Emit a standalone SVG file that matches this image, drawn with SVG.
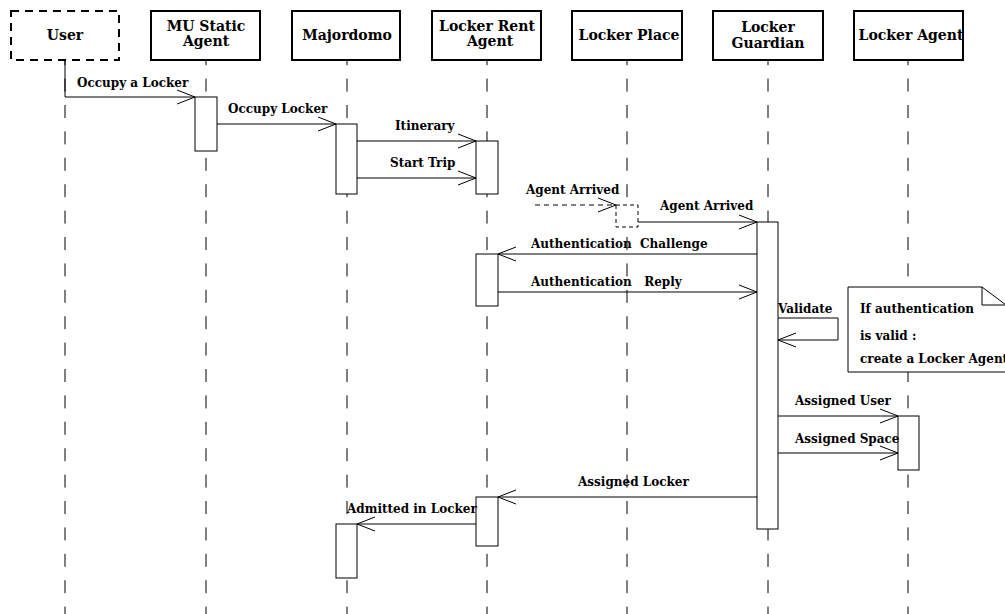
<svg xmlns="http://www.w3.org/2000/svg" width="1005" height="614" viewBox="0 0 1005 614">
<style>
.hdr{fill:#fff;stroke:#000;stroke-width:2}
.ht{font-family:"DejaVu Serif","Liberation Serif",serif;font-weight:bold;font-size:14px;text-anchor:middle;fill:#000}
.life{stroke:#000;stroke-width:1;stroke-dasharray:13 13.4;stroke-dashoffset:7.8;fill:none}
.act{fill:#fff;stroke:#000;stroke-width:1}
.msg{stroke:#000;stroke-width:1;fill:none}
.lbl{font-family:"DejaVu Serif","Liberation Serif",serif;font-weight:bold;font-size:12px;fill:#000}
</style>
<defs>
<marker id="arr" viewBox="0 0 20 16" refX="19" refY="8" markerWidth="20" markerHeight="16" markerUnits="userSpaceOnUse" orient="auto">
<path d="M1,1 L19,8 L1,15" fill="none" stroke="#000" stroke-width="1"/>
</marker>
</defs>
<rect width="1005" height="614" fill="#fff"/>
<g id="lifelines">
<line class="life" x1="65" y1="60" x2="65" y2="614"/>
<line class="life" x1="206" y1="60" x2="206" y2="614"/>
<line class="life" x1="347" y1="60" x2="347" y2="614"/>
<line class="life" x1="487" y1="60" x2="487" y2="614"/>
<line class="life" x1="627" y1="60" x2="627" y2="614"/>
<line class="life" x1="768" y1="60" x2="768" y2="614"/>
<line class="life" x1="908" y1="60" x2="908" y2="614"/>
</g>
<g id="user">
<rect x="11" y="11" width="108" height="49" fill="#fff" stroke="#000" stroke-width="2" stroke-dasharray="8 6"/>
<text class="ht" x="65" y="40">User</text>
</g>
<g id="mu-static-agent">
<rect class="hdr" x="151" y="11" width="109" height="49"/>
<text class="ht" x="206" y="31">MU Static</text>
<text class="ht" x="206" y="46">Agent</text>
</g>
<g id="majordomo">
<rect class="hdr" x="292" y="11" width="108" height="49"/>
<text class="ht" x="347" y="40">Majordomo</text>
</g>
<g id="locker-rent-agent">
<rect class="hdr" x="432" y="11" width="109" height="49"/>
<text class="ht" x="487" y="31">Locker Rent</text>
<text class="ht" x="490" y="46">Agent</text>
</g>
<g id="locker-place">
<rect class="hdr" x="572" y="11" width="110" height="49"/>
<text class="ht" x="629" y="40">Locker Place</text>
</g>
<g id="locker-guardian">
<rect class="hdr" x="713" y="11" width="110" height="49"/>
<text class="ht" x="768" y="32">Locker</text>
<text class="ht" x="768" y="48">Guardian</text>
</g>
<g id="locker-agent">
<rect class="hdr" x="854" y="11" width="109" height="49"/>
<text class="ht" x="911" y="40">Locker Agent</text>
</g>
<g id="activations">
<rect class="act" x="195" y="97" width="22" height="54"/>
<rect class="act" x="336" y="124" width="21" height="70"/>
<rect class="act" x="476" y="141" width="22" height="53"/>
<rect x="616" y="205" width="22" height="22" fill="#fff" stroke="#000" stroke-width="1" stroke-dasharray="4 3"/>
<rect class="act" x="757" y="222" width="21" height="307"/>
<rect class="act" x="476" y="254" width="22" height="52"/>
<rect class="act" x="898" y="416" width="21" height="54"/>
<rect class="act" x="476" y="497" width="22" height="49"/>
<rect class="act" x="336" y="524" width="21" height="54"/>
</g>
<g id="connectors">
<path class="msg" d="M65,60 L65,97 L195,97" marker-end="url(#arr)"/>
<line class="msg" x1="217" y1="124" x2="336" y2="124" marker-end="url(#arr)"/>
<line class="msg" x1="357" y1="141" x2="476" y2="141" marker-end="url(#arr)"/>
<line class="msg" x1="357" y1="178" x2="476" y2="178" marker-end="url(#arr)"/>
<line class="msg" x1="535" y1="205" x2="616" y2="205" stroke-dasharray="5 4" marker-end="url(#arr)"/>
<line class="msg" x1="638" y1="222" x2="757" y2="222" marker-end="url(#arr)"/>
<line class="msg" x1="757" y1="254" x2="498" y2="254" marker-end="url(#arr)"/>
<line class="msg" x1="498" y1="292" x2="757" y2="292" marker-end="url(#arr)"/>
<path class="msg" d="M778,318 L838,318 L838,340 L778,340" marker-end="url(#arr)"/>
<line class="msg" x1="778" y1="416" x2="898" y2="416" marker-end="url(#arr)"/>
<line class="msg" x1="778" y1="453" x2="898" y2="453" marker-end="url(#arr)"/>
<line class="msg" x1="757" y1="497" x2="498" y2="497" marker-end="url(#arr)"/>
<line class="msg" x1="476" y1="524" x2="357" y2="524" marker-end="url(#arr)"/>
</g>
<g id="labels">
<text class="lbl" x="77" y="87">Occupy a Locker</text>
<text class="lbl" x="228" y="113">Occupy Locker</text>
<text class="lbl" x="395" y="130">Itinerary</text>
<text class="lbl" x="390" y="167">Start Trip</text>
<text class="lbl" x="526" y="194">Agent Arrived</text>
<text class="lbl" x="660" y="210">Agent Arrived</text>
<text class="lbl" x="531" y="248" xml:space="preserve">Authentication  Challenge</text>
<text class="lbl" x="531" y="286" xml:space="preserve">Authentication   Reply</text>
<text class="lbl" x="778" y="313">Validate</text>
<text class="lbl" x="795" y="405">Assigned User</text>
<text class="lbl" x="795" y="443">Assigned Space</text>
<text class="lbl" x="578" y="486">Assigned Locker</text>
<text class="lbl" x="347" y="513">Admitted in Locker</text>
</g>
<g id="note">
<path d="M848,287 L982,287 L1006,305 L1006,372 L848,372 Z" fill="#fff" stroke="#000" stroke-width="1"/>
<path d="M982,287 L982,305 L1006,305" fill="none" stroke="#000" stroke-width="1"/>
<text class="lbl" x="860" y="313">If authentication</text>
<text class="lbl" x="860" y="340">is valid :</text>
<text class="lbl" x="860" y="363">create a Locker Agent</text>
</g>
</svg>
